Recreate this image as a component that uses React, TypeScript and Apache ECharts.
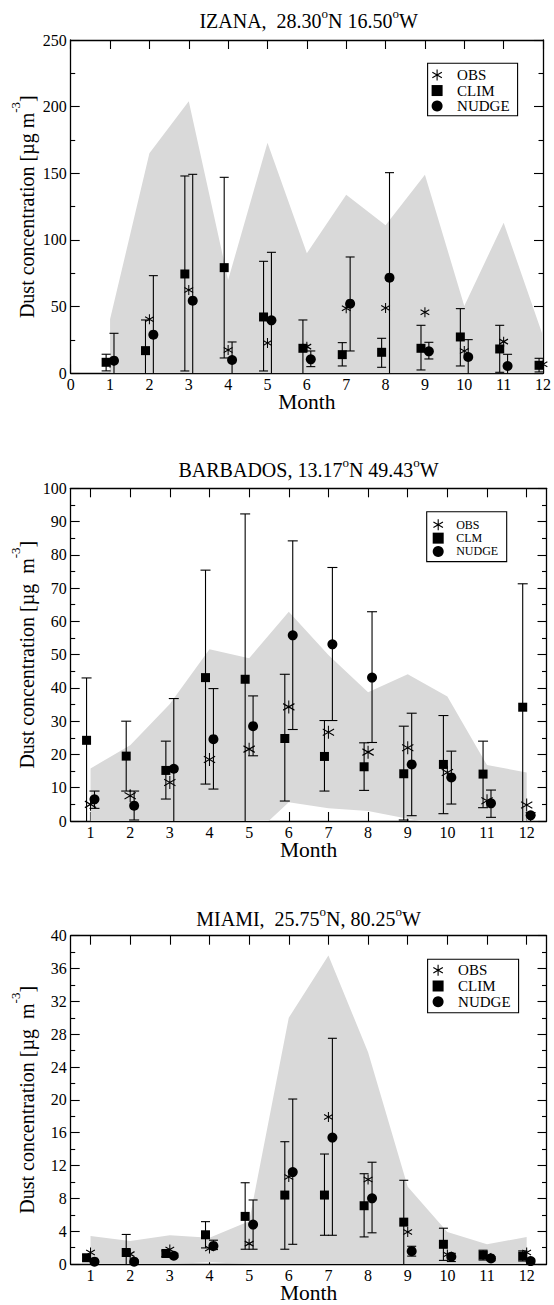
import React, { useEffect, useRef } from "react";
import * as echarts from "echarts";

const FONT = "Liberation Serif";
const BAND = "#d9d9d9";
const MONTHS = [1, 2, 3, 4, 5, 6, 7, 8, 9, 10, 11, 12];

// ---- IZANA ----
const izanaBandLo = [0, 0, 0, 0, 0, 0, 0, 0, 0, 0, 0, 0];
const izanaBandHi = [40.5, 165, 204, 70, 173, 90, 134, 111, 149, 50.5, 113, 28];
const izanaObs = [8, 40.5, 62.5, 17.5, 22.75, 20, 48.75, 49, 45.75, 16.75, 23.75, 6.75];
const izanaClim = [8.25, 17, 74.5, 79.25, 42.25, 18.75, 14, 15.75, 18.75, 27.25, 18.25, 6];
const izanaClimLo = [1.8, -5, 1.75, 11.5, 1.75, -5, 5.5, 4.5, 2.5, 5.5, 0.75, 1];
const izanaClimHi = [14.3, 40, 148, 147, 84, 40, 23, 26.25, 36, 48.5, 36, 11.25];
const izanaNudge = [9.5, 29, 54.5, 10, 39.75, 10.5, 52.25, 71.75, 16.5, 12.25, 5.5, null];
const izanaNudgeLo = [-5, -5, -5, -5, -5, 5, 16.75, -5, 10.75, -5, -5, null];
const izanaNudgeHi = [30, 73.25, 149.25, 23.5, 90.75, 16.75, 87.25, 150.5, 23.25, 25.25, 14.25, null];

// ---- BARBADOS ----
const barbBandLo = [0, 0, 0, 0, -5.4, 5.6, 3.8, 3, 0.7, -1.6, 0, 0];
const barbBandHi = [15.8, 22.8, 35.2, 51.6, 48.9, 62.9, 49.9, 38.7, 44.1, 37.4, 16.8, 14.6];
const barbObs = [5, 7.6, 11.6, 18.5, 21.6, 34.3, 26.7, 20.7, 22, 14.6, 6.1, 4.8];
const barbClim = [24.25, 19.5, 15.2, 43.1, 42.6, 24.8, 19.4, 16.3, 14.2, 17, 14.1, 34.2];
const barbClimLo = [-5, 9, 6.6, 11.1, -5, 6, 9, 9.2, 0.3, 2.2, 4, -5];
const barbClimHi = [43, 30, 24, 75.4, 92.3, 44.1, 30.2, 23.5, 28.5, 31.7, 24, 71.3];
const barbNudge = [6.5, 4.6, 15.7, 24.6, 28.5, 55.8, 53.1, 43.1, 17, 13.1, 5.3, 1.7];
const barbNudgeLo = [3.8, 0.3, -5, 9.6, 19.6, 27.5, 30.2, 23.6, 1.6, 5.1, 1.1, -5];
const barbNudgeHi = [9, 9, 36.8, 39.8, 37.6, 84.2, 76.2, 62.9, 32.4, 21, 9.3, 2.5];

// ---- MIAMI ----
const miamiBandLo = [0, 0, 0, 0.2, 0, 0, 0, 0, 0, 0, 0, 0];
const miamiBandHi = [3.4, 2.8, 3.5, 3.2, 5.2, 30, 37.6, 25.8, 9.4, 3.9, 2.4, 3.3];
const miamiObs = [1.4, 1.2, 1.76, 1.88, 2.48, 10.6, 17.9, 10.3, 3.9, 1.16, 1.0, 1.4];
const miamiClim = [0.76, 1.4, 1.28, 3.56, 5.8, 8.4, 8.4, 7.1, 5.1, 2.4, 1.08, 0.96];
const miamiClimLo = [0.4, -1, 0.9, 1.96, 1.8, 1.8, 3.5, 3.3, -1, 0.44, 0.48, 0.36];
const miamiClimHi = [1.1, 3.6, 1.6, 5.16, 9.9, 14.9, 13.4, 11.0, 10.2, 4.36, 1.68, 1.6];
const miamiNudge = [0.28, 0.28, 1.0, 2.2, 4.8, 11.2, 15.4, 8.0, 1.56, 0.88, 0.68, 0.36];
const miamiNudgeLo = [0.1, 0.1, 0.8, 1.76, 1.8, 2.4, 3.5, 3.8, 0.96, 0.3, 0.4, 0.1];
const miamiNudgeHi = [0.5, 0.5, 1.3, 2.9, 7.8, 20.1, 27.5, 12.4, 2.16, 1.3, 0.9, 0.6];

const OBS_PATH = "path://M0,-6L0,6M-5.2,-3L5.2,3M-5.2,3L5.2,-3";
const SQUARE_PATH = "path://M0,0L10,0L10,10L0,10Z";

type Panel = {
  title: string;
  yName: string;
  xMin: number;
  xMax: number;
  xInterval: number;
  yMax: number;
  yInterval: number;
  bandLo: number[];
  bandHi: number[];
  obs: (number | null)[];
  clim: (number | null)[];
  climLo: (number | null)[];
  climHi: (number | null)[];
  nudge: (number | null)[];
  nudgeLo: (number | null)[];
  nudgeHi: (number | null)[];
  climName: string;
  grid: { left: number; top: number; width: number; height: number };
  titleTop: number;
  legend: { left: number; top: number; padding: number[]; fontSize: number; lineHeight: number; itemWidth: number; itemHeight: number; textPad: number };
  obsSize: number;
  capHalf: number;
};

const panels: Panel[] = [
  {
    title: "IZANA,  28.30{sup|o}N 16.50{sup|o}W",
    yName: "Dust concentration [µg m{sup|-3}]",
    xMin: 0, xMax: 12, xInterval: 1, yMax: 250, yInterval: 50,
    bandLo: izanaBandLo, bandHi: izanaBandHi,
    obs: izanaObs, clim: izanaClim, climLo: izanaClimLo, climHi: izanaClimHi,
    nudge: izanaNudge, nudgeLo: izanaNudgeLo, nudgeHi: izanaNudgeHi,
    climName: "CLIM",
    grid: { left: 70.7, top: 40, width: 475.9, height: 333.3 },
    titleTop: 7,
    legend: { left: 427.6, top: 63.3, padding: [4, 8, 2, 4], fontSize: 15, lineHeight: 15.5, itemWidth: 18, itemHeight: 11, textPad: 6 },
    obsSize: 10,
    capHalf: 4.5,
  },
  {
    title: "BARBADOS, 13.17{sup|o}N 49.43{sup|o}W",
    yName: "Dust concentration [µg  m{sup|-3}]",
    xMin: 0.5, xMax: 12.5, xInterval: 1, yMax: 100, yInterval: 10,
    bandLo: barbBandLo, bandHi: barbBandHi,
    obs: barbObs, clim: barbClim, climLo: barbClimLo, climHi: barbClimHi,
    nudge: barbNudge, nudgeLo: barbNudgeLo, nudgeHi: barbNudgeHi,
    climName: "CLM",
    grid: { left: 70.7, top: 488.3, width: 475.8, height: 332.7 },
    titleTop: 456,
    legend: { left: 426.7, top: 511.7, padding: [6.5, 8.5, 3.5, 6], fontSize: 12, lineHeight: 13.3, itemWidth: 20, itemHeight: 11, textPad: 3 },
    obsSize: 13,
    capHalf: 5,
  },
  {
    title: "MIAMI,  25.75{sup|o}N, 80.25{sup|o}W",
    yName: "Dust concentration [µg  m{sup|-3}]",
    xMin: 0.5, xMax: 12.5, xInterval: 1, yMax: 40, yInterval: 4,
    bandLo: miamiBandLo, bandHi: miamiBandHi,
    obs: miamiObs, clim: miamiClim, climLo: miamiClimLo, climHi: miamiClimHi,
    nudge: miamiNudge, nudgeLo: miamiNudgeLo, nudgeHi: miamiNudgeHi,
    climName: "CLIM",
    grid: { left: 70.7, top: 935.7, width: 475.8, height: 333.3 },
    titleTop: 904.5,
    legend: { left: 427.6, top: 959.3, padding: [3, 8, 3, 5], fontSize: 15, lineHeight: 15.8, itemWidth: 18, itemHeight: 11, textPad: 6 },
    obsSize: 10,
    capHalf: 4.5,
  },
];

const AXIS_COLOR = "#000";

function buildOption() {
  const grid: any[] = [];
  const xAxis: any[] = [];
  const yAxis: any[] = [];
  const series: any[] = [];
  const title: any[] = [];
  const legend: any[] = [];

  panels.forEach((p, pi) => {
    grid.push({ ...p.grid, containLabel: false });
    title.push({
      text: p.title,
      left: p.grid.left + p.grid.width / 2,
      top: p.titleTop,
      textAlign: "center",
      padding: 0,
      textStyle: {
        fontFamily: FONT,
        fontSize: 20,
        lineHeight: 28,
        fontWeight: "normal",
        color: "#000",
        rich: { sup: { fontFamily: FONT, fontSize: 13, lineHeight: 13, color: "#000", verticalAlign: "top" } },
      },
    });
    const customX = p.xMin === 0 ? undefined : MONTHS;
    const lineStyle = { color: AXIS_COLOR, width: 1.3 };
    const tickStyle = { color: AXIS_COLOR, width: 1.1 };
    const xCommon: any = {
      gridIndex: pi,
      type: "value",
      min: p.xMin,
      max: p.xMax,
      interval: p.xInterval,
      splitLine: { show: false },
      axisLine: { show: true, onZero: false, lineStyle },
    };
    xAxis.push({
      ...xCommon,
      position: "bottom",
      axisTick: { show: true, inside: true, length: 9, lineStyle: tickStyle, customValues: customX },
      axisLabel: { show: true, fontFamily: FONT, fontSize: 16, lineHeight: 10, color: "#000", margin: 6, customValues: customX },
      name: "Month",
      nameLocation: "middle",
      nameGap: 23,
      nameMoveOverlap: false,
      nameTextStyle: { fontFamily: FONT, fontSize: 21.5, lineHeight: 12, color: "#000", verticalAlign: "top" },
    });
    xAxis.push({
      ...xCommon,
      position: "top",
      axisTick: { show: true, inside: true, length: 9, lineStyle: tickStyle, customValues: customX },
      axisLabel: { show: false, customValues: customX },
    });
    const yCommon: any = {
      gridIndex: pi,
      type: "value",
      min: 0,
      max: p.yMax,
      interval: p.yInterval,
      splitLine: { show: false },
      axisLine: { show: true, onZero: false, lineStyle },
      axisTick: { show: true, inside: true, length: 9, lineStyle: tickStyle },
      minorTick: { show: true, splitNumber: 2, length: 4.5, lineStyle: tickStyle },
    };
    yAxis.push({
      ...yCommon,
      position: "left",
      axisLabel: { show: true, fontFamily: FONT, fontSize: 16, color: "#000", margin: 4 },
      name: p.yName,
      nameLocation: "middle",
      nameGap: 26,
      nameMoveOverlap: false,
      nameTextStyle: {
        fontFamily: FONT,
        fontSize: 20,
        lineHeight: 36,
        color: "#000",
        rich: { sup: { fontFamily: FONT, fontSize: 13, lineHeight: 13, color: "#000", verticalAlign: "top" } },
      },
    });
    yAxis.push({ ...yCommon, position: "right", axisLabel: { show: false } });

    const xi = pi * 2;
    const yi = pi * 2;

    // shaded range band drawn as one polygon through the axis scales
    series.push({
      type: "custom",
      name: "band" + pi,
      xAxisIndex: xi,
      yAxisIndex: yi,
      clip: true,
      silent: true,
      z: 1,
      encode: { x: 0, y: 1 },
      data: [[MONTHS[0], p.bandHi[0]]],
      renderItem: (params: any, api: any) => {
        const up = MONTHS.map((m, i) => api.coord([m, p.bandHi[i]]));
        const dn = MONTHS.map((m, i) => api.coord([m, p.bandLo[i]])).reverse();
        return {
          type: "polygon",
          shape: { points: up.concat(dn) },
          style: { fill: BAND, stroke: null },
        };
      },
    });

    const cap = p.capHalf;
    const errRender = (params: any, api: any) => {
      const x = api.value(0);
      const lo = api.value(1);
      const hi = api.value(2);
      const cs = params.coordSys;
      const top = api.coord([x, hi]);
      const bot = api.coord([x, lo]);
      const bottomY = cs.y + cs.height;
      const yb = Math.min(bot[1], bottomY);
      const st = { stroke: "#000", lineWidth: 1.1, fill: null };
      const children: any[] = [
        { type: "line", shape: { x1: top[0], y1: top[1], x2: top[0], y2: yb }, style: st },
        { type: "line", shape: { x1: top[0] - cap, y1: top[1], x2: top[0] + cap, y2: top[1] }, style: st },
      ];
      if (bot[1] < bottomY - 0.5) {
        children.push({ type: "line", shape: { x1: bot[0] - cap, y1: bot[1], x2: bot[0] + cap, y2: bot[1] }, style: st });
      }
      return { type: "group", children };
    };
    const errData = (off: number, lo: (number | null)[], hi: (number | null)[]) =>
      MONTHS.map((m, i) => [m + off, lo[i], hi[i]]).filter((d) => d[1] != null && d[2] != null && (d[0] as number) <= p.xMax);

    series.push({
      type: "custom",
      name: "climErr" + pi,
      xAxisIndex: xi,
      yAxisIndex: yi,
      renderItem: errRender,
      encode: { x: 0, y: [1, 2] },
      data: errData(-0.1, p.climLo, p.climHi),
      silent: true,
      z: 2,
    });
    series.push({
      type: "custom",
      name: "nudgeErr" + pi,
      xAxisIndex: xi,
      yAxisIndex: yi,
      renderItem: errRender,
      encode: { x: 0, y: [1, 2] },
      data: errData(0.1, p.nudgeLo, p.nudgeHi),
      silent: true,
      z: 2,
    });

    const pts = (off: number, vals: (number | null)[]) =>
      MONTHS.map((m, i) => [m + off, vals[i]]).filter((d) => d[1] != null && (d[0] as number) <= p.xMax);

    series.push({
      type: "scatter",
      name: p.climName,
      xAxisIndex: xi,
      yAxisIndex: yi,
      symbol: "rect",
      symbolSize: 9,
      itemStyle: { color: "#000", opacity: 1 },
      data: pts(-0.1, p.clim),
      z: 3,
    });
    series.push({
      type: "scatter",
      name: "NUDGE",
      xAxisIndex: xi,
      yAxisIndex: yi,
      symbol: "circle",
      symbolSize: 10,
      itemStyle: { color: "#000", opacity: 1 },
      data: pts(0.1, p.nudge),
      z: 3,
    });
    series.push({
      type: "scatter",
      name: "OBS",
      xAxisIndex: xi,
      yAxisIndex: yi,
      symbol: OBS_PATH,
      symbolSize: [p.obsSize * 0.87, p.obsSize],
      itemStyle: { color: "rgba(0,0,0,0)", borderColor: "#000", borderWidth: 1.1, opacity: 1 },
      data: pts(0, p.obs),
      z: 4,
    });

    const L = p.legend;
    legend.push({
      orient: "vertical",
      left: L.left,
      top: L.top,
      padding: L.padding,
      itemGap: 0,
      itemWidth: L.itemWidth,
      itemHeight: L.itemHeight,
      borderColor: "#000",
      borderWidth: 1.1,
      borderRadius: 0,
      selectedMode: false,
      textStyle: { fontFamily: FONT, fontSize: L.fontSize, color: "#000", lineHeight: L.lineHeight, padding: [0, 0, 0, L.textPad] },
      data: [
        { name: "OBS", icon: OBS_PATH, itemStyle: { color: "rgba(0,0,0,0)", borderColor: "#000", borderWidth: 1.1 } },
        { name: p.climName, icon: SQUARE_PATH, itemStyle: { color: "#000", borderWidth: 0 } },
        { name: "NUDGE", icon: "circle", itemStyle: { color: "#000", borderWidth: 0 } },
      ],
    });
  });

  return {
    animation: false,
    backgroundColor: "#fff",
    textStyle: { fontFamily: FONT },
    title,
    grid,
    xAxis,
    yAxis,
    legend,
    series,
  };
}

export default function App() {
  const ref = useRef<HTMLDivElement>(null);
  useEffect(() => {
    if (!ref.current) return;
    const chart = echarts.init(ref.current, undefined, { renderer: "svg" });
    chart.setOption(buildOption() as any);
    return () => chart.dispose();
  }, []);
  return <div ref={ref} style={{ position: "absolute", left: 0, top: 0, width: 554, height: 1305, background: "#fff" }} />;
}
